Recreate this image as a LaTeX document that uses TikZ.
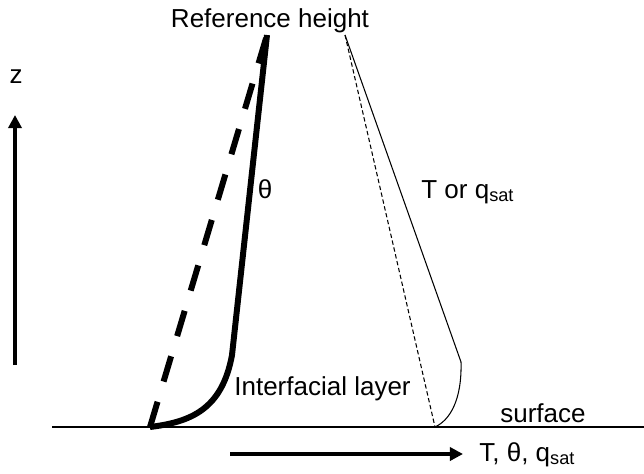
\documentclass[tikz,border=0pt]{standalone}
\usepackage{fontspec}
\setmainfont{Liberation Sans}
\usetikzlibrary{arrows.meta,positioning}

\begin{document}
\begin{tikzpicture}[
        x=0.02cm,
        y=-0.02cm,
        profile/.style={line width=3.4pt},
        thinline/.style={line width=0.6pt},
        axis/.style={line width=2.3pt, -{Triangle[length=7.5pt,width=7.5pt]}},
        lbl/.style={font=\fontsize{14.8}{17}\selectfont, inner sep=0pt},
        >=Latex
    ]
        \useasboundingbox (0,0) rectangle (644,473);

        % theta profile and T profile end points
        \coordinate (reftop) at (267,35);
        \coordinate (thknee) at (232,355);
        \coordinate (thsfc) at (150,427);
        \coordinate (Ttop) at (345,35);
        \coordinate (Tknee) at (461,362);
        \coordinate (Tsfc) at (435,427);
        \coordinate (sfcL) at (52,427);
        \coordinate (sfcR) at (644,427);
        \coordinate (zbot) at (15,365);
        \coordinate (ztop) at (15,115);
        \coordinate (xL) at (230,454);
        \coordinate (xR) at (463,454);

        \draw[profile] (reftop) -- (thknee) .. controls (222,410) and (190,422) .. (thsfc);
        \draw[profile, dash pattern=on 15pt off 12pt] (thsfc) -- (reftop);
        \draw[thinline] (Ttop) -- (Tknee) .. controls (462,400) and (450,420) .. (Tsfc);
        \draw[thinline, dash pattern=on 2.5pt off 1.5pt] (Ttop) -- (Tsfc);
        \draw[thinline] (sfcL) -- (sfcR);
        \draw[axis] (zbot) -- (ztop);
        \draw[axis] (xL) -- (xR);

        \node[lbl, anchor=base] (ref) at (270,28) {Reference height};
        \node[lbl, anchor=base] (zlab) at (16,83) {z};
        \node[lbl, anchor=base] (thlab) at (265,198) {θ};
        \node[lbl, anchor=base west] (Tlab) at (421,198) {T or q\textsubscript{sat}};
        \node[lbl, anchor=base west] (iflab) at (234,395) {Interfacial layer};
        \node[lbl, anchor=base] (sfclab) at (543,422) {surface};
        \node[lbl, anchor=base west] (xlab) at (479,461) {T, θ, q\textsubscript{sat}};
    \end{tikzpicture}
\end{document}
